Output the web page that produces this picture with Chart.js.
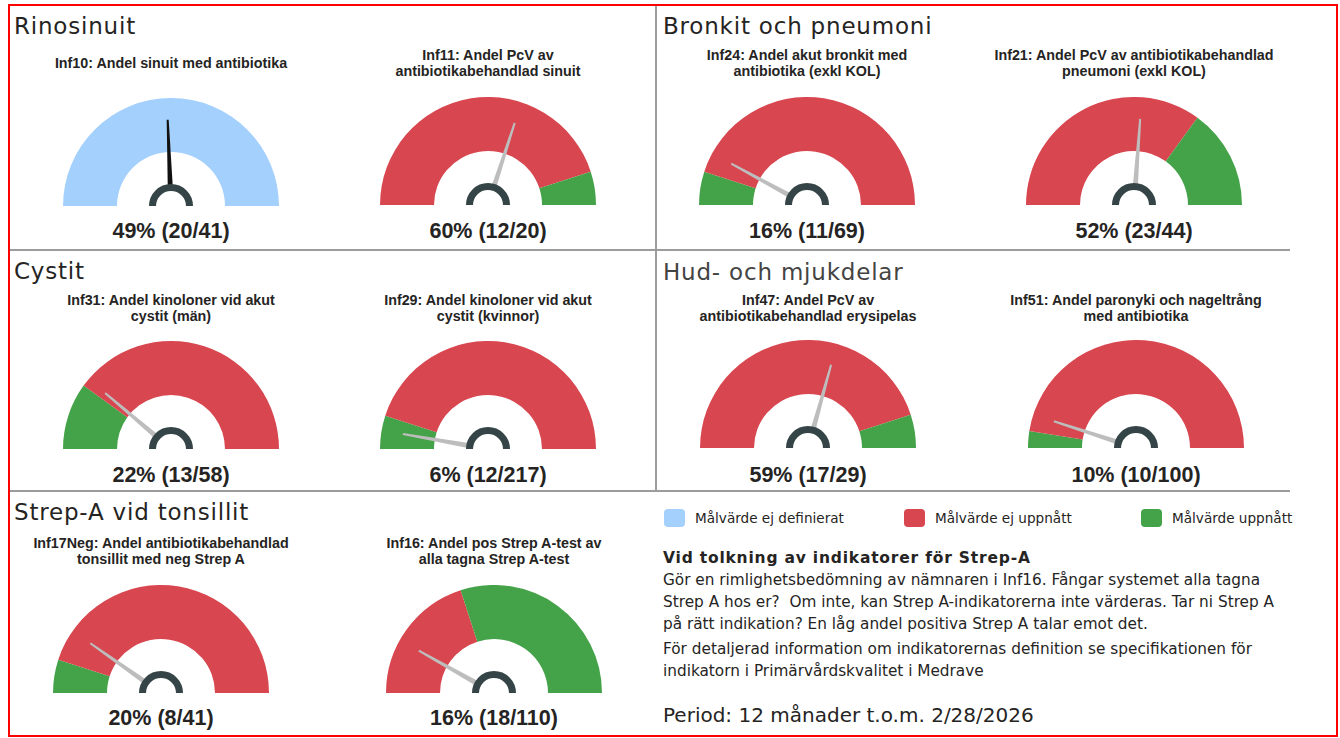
<!DOCTYPE html>
<html>
<head>
<meta charset="utf-8">
<script src="https://cdn.jsdelivr.net/npm/chart.js@4.4.1/dist/chart.umd.min.js"></script>
<style>
  body { margin: 0; background: #fff; }
  #page { position: relative; width: 1340px; height: 738px; overflow: hidden; font-family: "DejaVu Sans", sans-serif; color: #252423; }
  .frame { position: absolute; left: 8px; top: 4px; width: 1330px; height: 733px; border: 2px solid #f00; box-sizing: border-box; }
  .rule { position: absolute; background: #9c9c9c; }
  .section { position: absolute; font-size: 23px; letter-spacing: 0.8px; line-height: 26px; white-space: nowrap; }
  .gtitle { position: absolute; width: 320px; height: 40px; display: flex; align-items: center; justify-content: center; text-align: center;
            font-family: "Liberation Sans", Arial, sans-serif; font-weight: bold; font-size: 14.3px; line-height: 16px; }
  .gvalue { position: absolute; width: 200px; text-align: center; font-family: "Liberation Sans", Arial, sans-serif; font-weight: bold; font-size: 21.5px; line-height: 24px; }
  .gauge { position: absolute; }
  .legend { position: absolute; top: 509px; height: 18px; display: flex; align-items: center; font-size: 13.6px; white-space: nowrap; }
  .legend span.box { display: inline-block; width: 21px; height: 18px; border-radius: 4px; margin-right: 10px; }
  .note { position: absolute; left: 663px; white-space: nowrap; font-size: 15.3px; line-height: 22px; }
</style>
</head>
<body>
<div id="page">
  <div class="frame"></div>
  <div class="rule" style="left:655px; top:6px; width:2px; height:486px;"></div>
  <div class="rule" style="left:10px; top:249px; width:1280px; height:2px;"></div>
  <div class="rule" style="left:10px; top:490px; width:1280px; height:2px;"></div>
</div>
<script>
// Indicator data
const sectionNames = ['Rinosinuit', 'Bronkit och pneumoni', 'Cystit', 'Hud- och mjukdelar', 'Strep-A vid tonsillit'];
const indicatorTitles = [
  'Inf10: Andel sinuit med antibiotika',
  'Inf11: Andel PcV av<br>antibiotikabehandlad sinuit',
  'Inf24: Andel akut bronkit med<br>antibiotika (exkl KOL)',
  'Inf21: Andel PcV av antibiotikabehandlad<br>pneumoni (exkl KOL)',
  'Inf31: Andel kinoloner vid akut<br>cystit (män)',
  'Inf29: Andel kinoloner vid akut<br>cystit (kvinnor)',
  'Inf47: Andel PcV av<br>antibiotikabehandlad erysipelas',
  'Inf51: Andel paronyki och nageltrång<br>med antibiotika',
  'Inf17Neg: Andel antibiotikabehandlad<br>tonsillit med neg Strep A',
  'Inf16: Andel pos Strep A-test av<br>alla tagna Strep A-test'
];
const numerators   = [20, 12, 11, 23, 13, 12, 17, 10, 8, 18];
const denominators = [41, 20, 69, 44, 58, 217, 29, 100, 41, 110];
const targets      = [null, 90, 10, 70, 20, 10, 90, 5, 10, 40];
const lowerIsBetter = [null, false, true, false, true, true, false, true, true, false];
const legendLabels = ['Målvärde ej definierat', 'Målvärde ej uppnått', 'Målvärde uppnått'];
const periodText = 'Period: 12 månader t.o.m. 2/28/2026';

const BLUE = '#a4d0fd', RED = '#d8464f', GREEN = '#44a248';
const NEEDLE = '#bdbdbd', HUB = '#354547';

// layout: gauge centre x, baseline y
const gaugePos = [
  [171, 206], [488, 205], [807, 205], [1134, 205],
  [171, 449], [488, 449], [808, 448], [1136, 448],
  [161, 693], [494, 693]
];
const rowTitleY = [63, 63, 63, 63, 308, 308, 308, 308, 551, 551];
const rowValueY = [231, 231, 231, 231, 475, 475, 475, 475, 718, 718];
const sectionPos = [[14, 26], [663, 26], [14, 271], [663, 272], [14, 512]];
const R = 108;

const page = document.getElementById('page');

sectionNames.forEach((name, i) => {
  const d = document.createElement('div');
  d.className = 'section';
  d.textContent = name;
  d.style.left = sectionPos[i][0] + 'px';
  d.style.top = (sectionPos[i][1] - 13) + 'px';
  if (i === 3) d.style.color = '#444';
  page.appendChild(d);
});

const needlePlugin = {
  id: 'needle',
  afterDatasetsDraw(chart, args, opts) {
    const arc = chart.getDatasetMeta(0).data[0];
    const ctx = chart.ctx;
    const cx = arc.x, cy = arc.y, r = arc.outerRadius;
    const span = chart.options.circumference * Math.PI / 180;
    const a = arc.startAngle + span * Math.min(opts.value / opts.max, 1);
    const ux = Math.cos(a), uy = Math.sin(a), px = -uy, py = ux;
    const r0 = 15, r1 = r * 0.8;
    ctx.save();
    ctx.fillStyle = opts.color;
    ctx.beginPath();
    ctx.moveTo(cx + ux * r0 + px * 2.6, cy + uy * r0 + py * 2.6);
    ctx.lineTo(cx + ux * r1 + px * 1, cy + uy * r1 + py * 1);
    ctx.lineTo(cx + ux * r1 - px * 1, cy + uy * r1 - py * 1);
    ctx.lineTo(cx + ux * r0 - px * 2.6, cy + uy * r0 - py * 2.6);
    ctx.closePath();
    ctx.fill();
    ctx.strokeStyle = HUB;
    ctx.lineWidth = 7;
    ctx.beginPath();
    ctx.arc(cx, cy, 18.5, Math.PI, 2 * Math.PI);
    ctx.stroke();
    ctx.restore();
  }
};

indicatorTitles.forEach((title, i) => {
  const [cx, by] = gaugePos[i];

  const t = document.createElement('div');
  t.className = 'gtitle';
  t.innerHTML = title;
  t.style.left = (cx - 160) + 'px';
  t.style.top = (rowTitleY[i] - 20) + 'px';
  page.appendChild(t);

  const v = document.createElement('div');
  v.className = 'gvalue';
  const pct = Math.round(numerators[i] / denominators[i] * 100);
  v.textContent = pct + '% (' + numerators[i] + '/' + denominators[i] + ')';
  v.style.left = (cx - 100) + 'px';
  v.style.top = (rowValueY[i] - 12) + 'px';
  page.appendChild(v);

  const canvas = document.createElement('canvas');
  canvas.className = 'gauge';
  canvas.width = 2 * R;
  canvas.height = R;
  canvas.style.left = (cx - R) + 'px';
  canvas.style.top = (by - R) + 'px';
  page.appendChild(canvas);

  let values, colors;
  if (targets[i] === null) {
    values = [100]; colors = [BLUE];
  } else if (lowerIsBetter[i]) {
    values = [targets[i], 100 - targets[i]]; colors = [GREEN, RED];
  } else {
    values = [targets[i], 100 - targets[i]]; colors = [RED, GREEN];
  }

  new Chart(canvas.getContext('2d'), {
    type: 'doughnut',
    data: {
      labels: values.map((_, k) => 'seg' + k),
      datasets: [{ data: values, backgroundColor: colors, borderWidth: 0, hoverOffset: 0 }]
    },
    options: {
      responsive: false,
      animation: false,
      events: [],
      rotation: -90,
      circumference: 180,
      cutout: '50%',
      layout: { padding: 0 },
      plugins: {
        legend: { display: false },
        tooltip: { enabled: false },
        needle: { value: numerators[i] / denominators[i] * 100, max: 100, color: targets[i] === null ? '#111' : NEEDLE }
      }
    },
    plugins: [needlePlugin]
  });
});

// legend
const legendX = [664, 904, 1141];
[BLUE, RED, GREEN].forEach((c, i) => {
  const d = document.createElement('div');
  d.className = 'legend';
  d.style.left = legendX[i] + 'px';
  d.innerHTML = '<span class="box" style="background:' + c + '"></span>' + legendLabels[i];
  page.appendChild(d);
});

// notes
const notes = [
  [558, '<b style="font-size:15.5px; letter-spacing:0.8px">Vid tolkning av indikatorer för Strep-A</b>'],
  [580, 'Gör en rimlighetsbedömning av nämnaren i Inf16. Fångar systemet alla tagna'],
  [602, 'Strep A hos er?&nbsp; Om inte, kan Strep A-indikatorerna inte värderas. Tar ni Strep A'],
  [624, 'på rätt indikation? En låg andel positiva Strep A talar emot det.'],
  [649, 'För detaljerad information om indikatorernas definition se specifikationen för'],
  [671, 'indikatorn i Primärvårdskvalitet i Medrave'],
  [715, '<span style="font-size:20px">' + periodText + '</span>']
];
notes.forEach(([y, html]) => {
  const d = document.createElement('div');
  d.className = 'note';
  d.style.top = (y - 11) + 'px';
  d.innerHTML = html;
  page.appendChild(d);
});
</script>
</body>
</html>
